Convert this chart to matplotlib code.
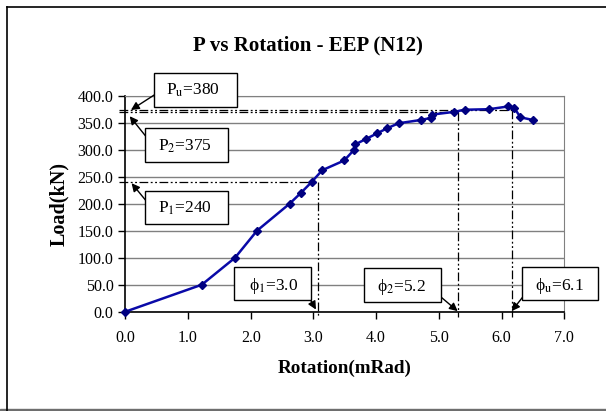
import matplotlib
matplotlib.use("Agg")
import matplotlib.pyplot as plt
from matplotlib.patches import Rectangle
from matplotlib.lines import Line2D

plt.rcParams['font.family'] = ['Liberation Serif', 'DejaVu Serif']
plt.rcParams['mathtext.fontset'] = 'stix'

# data
rotation = [0.0, 1.22, 1.75, 2.10, 2.62, 2.80, 2.97, 3.14, 3.49, 3.65, 3.67,
            3.84, 4.01, 4.18, 4.36, 4.71, 4.88, 4.89, 5.24, 5.41, 5.80, 6.10,
            6.20, 6.30, 6.50]
load = [0.0, 50.0, 100.0, 150.0, 200.0, 220.0, 240.0, 262.0, 280.0, 300.0, 310.0,
        320.0, 330.0, 340.0, 349.0, 355.0, 359.0, 365.0, 370.0, 374.0, 375.0, 380.0,
        378.0, 360.0, 355.0]

# reference lines (where they are drawn) and their labels
ref_load = [240.0, 369.0, 373.5]       # P1, P2, Pu levels
ref_rot = [3.08, 5.30, 6.16]           # phi1, phi2, phiu
p_labels = ['P$_{1}$=240', 'P$_{2}$=375', 'P$_{\\rm u}$=380']
phi_labels = ['\u03d5$_{1}$=3.0', '\u03d5$_{2}$=5.2', '\u03d5$_{\\rm u}$=6.1']

xticks = [0, 1, 2, 3, 4, 5, 6, 7]
yticks = [0, 50, 100, 150, 200, 250, 300, 350, 400]

W, H = 606, 411
fig = plt.figure(figsize=(W / 100, H / 100), dpi=100)
ax = fig.add_axes([125.3 / W, 1 - 311.7 / H, 439 / W, 216 / H])

# frame around the chart
fig.add_artist(Line2D([7 / W, 7 / W], [0, 1 - 7 / H], color='black', lw=1.2, transform=fig.transFigure))
fig.add_artist(Line2D([7 / W, 1], [1 - 7 / H, 1 - 7 / H], color='black', lw=1.2, transform=fig.transFigure))
fig.add_artist(Rectangle((0, 0), 1, 2.5 / H, color='#6e6e6e', transform=fig.transFigure))

ax.set_xlim(0, 7)
ax.set_ylim(0, 400)
ax.set_xticks(xticks)
ax.set_yticks(yticks)
ax.set_xticklabels([f"{v:.1f}" for v in xticks], fontsize=11.5)
ax.set_yticklabels([f"{v:.1f}" for v in yticks], fontsize=11.5)
ax.tick_params(direction='out', length=5, width=1, color='black')
ax.tick_params(axis='x', pad=8)
ax.tick_params(axis='y', pad=3.5)
ax.grid(axis='y', color='#808080', lw=1)
ax.set_axisbelow(True)
for s in ['top', 'right']:
    ax.spines[s].set_color('#808080')
for s in ['left', 'bottom']:
    ax.spines[s].set_color('black')
    ax.spines[s].set_linewidth(1.2)

# dashed reference lines
dd = (0, (7, 2, 1.5, 2, 1.5, 2))
xleft = -0.1
ybot = -9
ax.plot([xleft, ref_rot[0]], [ref_load[0]] * 2, color='black', lw=0.9, ls=dd, clip_on=False)
ax.plot([ref_rot[0]] * 2, [ref_load[0], ybot], color='black', lw=0.9, ls=dd, clip_on=False)
ax.plot([xleft, ref_rot[1]], [ref_load[1]] * 2, color='black', lw=0.9, ls=dd, clip_on=False)
ax.plot([ref_rot[1]] * 2, [ref_load[1], ybot], color='black', lw=0.9, ls=dd, clip_on=False)
ax.plot([xleft, ref_rot[2]], [ref_load[2]] * 2, color='black', lw=0.9, ls=dd, clip_on=False)
ax.plot([ref_rot[2]] * 2, [ref_load[2], ybot], color='black', lw=0.9, ls=dd, clip_on=False)

# the curve
ax.plot(rotation, load, color='#0a0aa8', lw=1.8, marker='D', ms=4,
        mfc='#000080', mec='#000080', clip_on=False, zorder=5)

fig.text(308 / W, 1 - 45 / H, 'P vs Rotation - EEP (N12)', fontsize=15, fontweight='bold',
         ha='center', va='center')
ax.set_xlabel('Rotation(mRad)', fontsize=13.8, fontweight='bold', labelpad=10)
ax.set_ylabel('Load(kN)', fontsize=14.5, fontweight='bold', labelpad=6)


def px(x, y):
    # figure pixel (from top-left) -> figure fraction
    return (x / W, 1 - y / H)


def box(x0, y0, x1, y1):
    fig.add_artist(Rectangle((x0 / W, 1 - y1 / H), (x1 - x0) / W, (y1 - y0) / H,
                             transform=fig.transFigure, fc='white', ec='black', lw=1, zorder=10))


# label boxes: (box x0, y0, x1, y1, text x, text y, arrow start, arrow tip)
boxes = [
    (154, 73, 237, 107, 166, 90, (165, 88), (p_labels[2], (0.09, ref_load[2]))),
    (145, 128, 228, 162, 158, 146, (152, 144), (p_labels[1], (0.07, 362))),
    (145, 191, 228, 224, 158, 208, (152, 208), (p_labels[0], (0.1, 238))),
    (234, 267, 311, 300, 249, 286, (302, 285), (phi_labels[0], (ref_rot[0] - 0.04, 4))),
    (364, 268, 441, 302, 377, 287, (435, 292), (phi_labels[1], (ref_rot[1], 1))),
    (522, 267, 598, 300, 535, 286, (533, 284), (phi_labels[2], (ref_rot[2], 1))),
]
for x0, y0, x1, y1, tx, ty, start, (label, tip) in boxes:
    box(x0, y0, x1, y1)
    fig.text(tx / W, 1 - ty / H, label, fontsize=12.5, va='center', ha='left', zorder=11)
    ax.annotate('', xy=tip, xycoords='data', xytext=px(*start), textcoords='figure fraction',
                arrowprops=dict(arrowstyle='-|>', color='black', lw=1, mutation_scale=12,
                                shrinkA=0, shrinkB=0), annotation_clip=False, zorder=12)

fig.savefig('out.png', dpi=100)
